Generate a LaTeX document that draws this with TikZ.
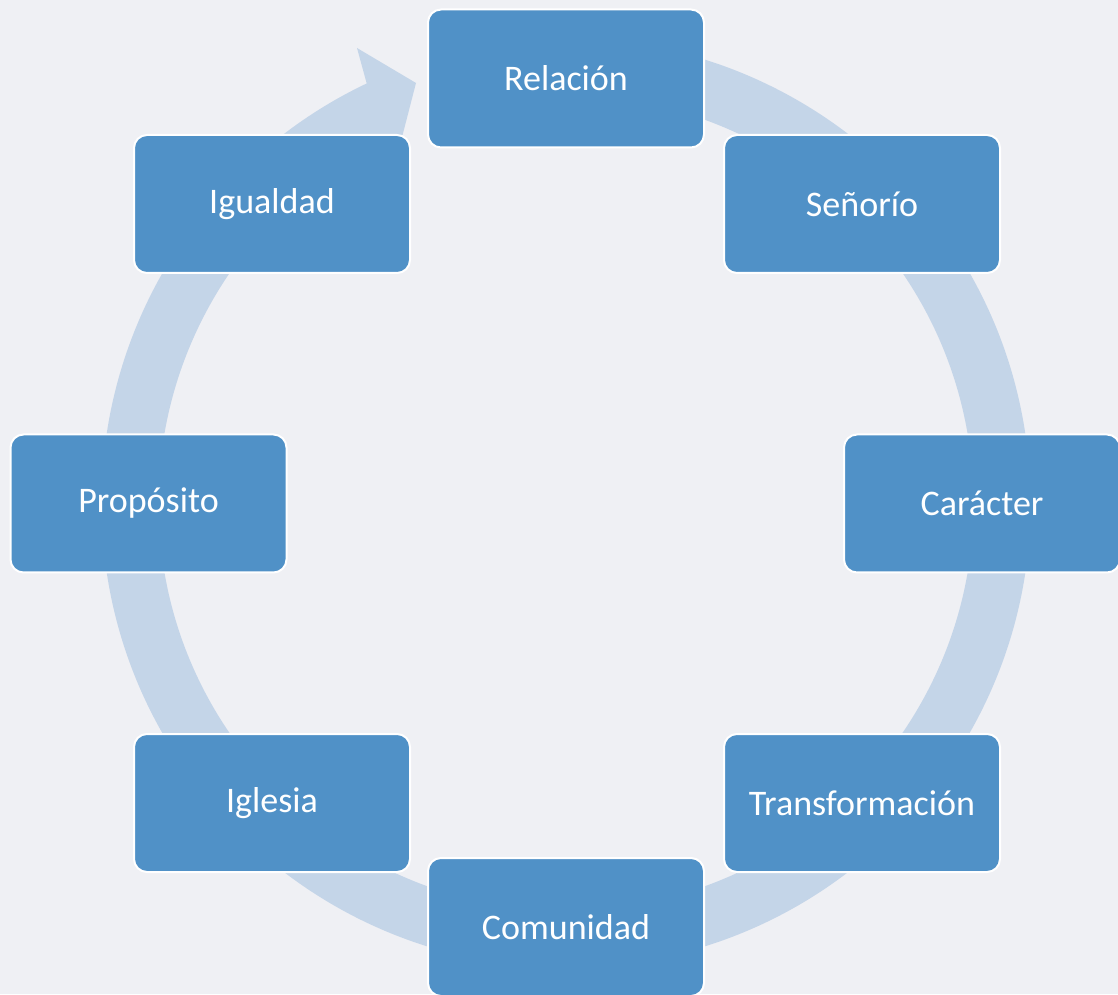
\documentclass[tikz,border=0pt]{standalone}
\usepackage{fontspec}
\setmainfont{Carlito}
\definecolor{boxblue}{HTML}{5091C7}
\definecolor{ringblue}{HTML}{C4D5E8}
\definecolor{paper}{HTML}{EFF0F4}
\begin{document}
\begin{tikzpicture}[x=1pt,y=1pt,
  stagebox/.style={draw=white, line width=2pt, fill=boxblue, rounded corners=13pt,
    minimum width=276pt, minimum height=138pt, inner sep=0pt, text=white,
    font=\fontsize{36}{40}\selectfont},
  ring/.style={draw=ringblue, line width=57pt},
  ringhead/.style={fill=ringblue}]
\fill[paper] (0,0) rectangle (1118,994);
\useasboundingbox (0,0) rectangle (1118,994);
\coordinate (c) at (566,491);
% ring
\draw[ring] ([shift={(95:436)}]c) arc[start angle=95, end angle=-245.2, radius=436];
\coordinate (wingout) at (357,946);
\coordinate (tip) at (416,911);
\coordinate (wingin) at (392,818);
\fill[ringhead] (wingout) -- (tip) -- (wingin) -- cycle;
% boxes
\node[stagebox] (rel) at (566,915.5) {Relación};
\node[stagebox] (sen) at (862,790) {Señorío};
\node[stagebox] (car) at (982,490.5) {Carácter};
\node[stagebox] (tra) at (862,191) {Transformación};
\node[stagebox] (com) at (566,67) {Comunidad};
\node[stagebox] (igl) at (272,191) {Iglesia};
\node[stagebox] (pro) at (148.5,490.5) {Propósito};
\node[stagebox] (igu) at (272,790) {Igualdad};
\end{tikzpicture}
\end{document}
